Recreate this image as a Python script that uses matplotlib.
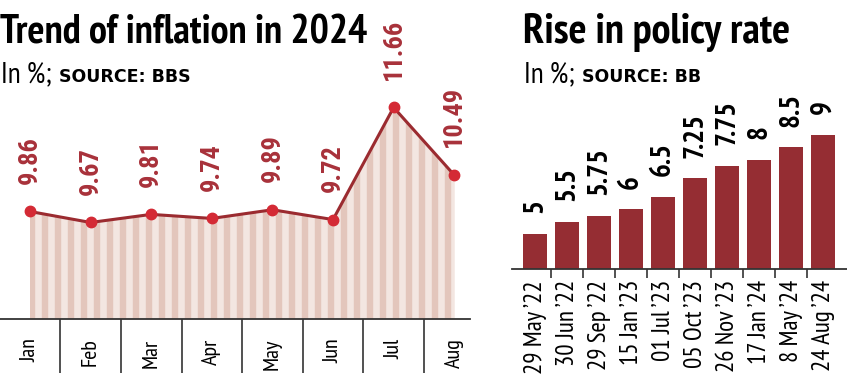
import matplotlib
matplotlib.use("Agg")
import matplotlib.pyplot as plt
import numpy as np
from matplotlib import font_manager

# --- data -------------------------------------------------------------
months = ["Jan", "Feb", "Mar", "Apr", "May", "Jun", "Jul", "Aug"]
inflation = [9.86, 9.67, 9.81, 9.74, 9.89, 9.72, 11.66, 10.49]

rate_dates = ["29 May \u201922", "30 Jun \u201922", "29 Sep \u201922", "15 Jan \u201923",
              "01 Jul \u201923", "05 Oct \u201923", "26 Nov \u201923", "17 Jan \u201924",
              "8 May \u201924", "24 Aug \u201924"]
policy_rate = [5, 5.5, 5.75, 6, 6.5, 7.25, 7.75, 8, 8.5, 9]
rate_labels = ["5", "5.5", "5.75", "6", "6.5", "7.25", "7.75", "8", "8.5", "9"]

# --- style ------------------------------------------------------------
W, H = 847, 382
installed = {f.name for f in font_manager.fontManager.ttflist}


def pick(*names):
    for n in names:
        if n in installed:
            return n
    return "DejaVu Sans"


NARROW = pick("PT Sans Narrow", "Roboto Condensed", "Fira Sans Condensed",
              "Barlow Semi Condensed", "Asap Condensed")
DIGITS = pick("Roboto Condensed", "PT Sans Narrow", "Barlow Semi Condensed")
WIDE = "DejaVu Sans"

LINE = "#9b2b30"
DOT = "#d42a35"
LABEL_RED = "#a8313a"
STRIPE_DARK = "#e3c6bc"
STRIPE_LIGHT = "#f3e6e1"
BAR = "#952d33"
AXIS = "#333333"


def fx(px):
    return px / W


def fy(py):
    return 1 - py / H


fig = plt.figure(figsize=(W / 100, H / 100), dpi=100)
fig.patch.set_facecolor("white")

# --- headings -----------------------------------------------------------
fig.text(fx(0), fy(43), "Trend of inflation in 2024", family=NARROW, weight="bold",
         fontsize=29, va="baseline", ha="left")
fig.text(fx(1), fy(82), "In %;", family=NARROW, fontsize=21, va="baseline")
fig.text(fx(59), fy(82), "SOURCE: BBS", family=WIDE, weight="bold", fontsize=12.5,
         va="baseline")

fig.text(fx(523), fy(43), "Rise in policy rate", family=NARROW, weight="bold",
         fontsize=30.5, va="baseline", ha="left")
fig.text(fx(524), fy(82), "In %;", family=NARROW, fontsize=21, va="baseline")
fig.text(fx(582), fy(82), "SOURCE: BB", family=WIDE, weight="bold", fontsize=12.5,
         va="baseline")

# --- left: inflation trend ----------------------------------------------
ax1 = fig.add_axes([0, fy(319), fx(470), (319 - 15) / H])
x = np.arange(len(months))
ax1.set_xlim(-0.495, 7.26)
ax1.set_ylim(8, 8 + 304 / 57.8)

# striped area under the line
area = ax1.fill_between(x, inflation, 8, color=STRIPE_LIGHT, lw=0, zorder=1)
period = 13 / 60.57
stripes = ax1.vlines(np.arange(x[0] + 0.03, x[-1], period), 8, 14,
                     colors=STRIPE_DARK, lw=4.6, zorder=2)
stripes.set_clip_path(area.get_paths()[0], ax1.transData)

ax1.plot(x, inflation, color=LINE, lw=2.2, zorder=3)
ax1.plot(x, inflation, "o", color=DOT, ms=7.5, zorder=4)

for xi, v in zip(x, inflation):
    ax1.annotate(f"{v:.2f}", (xi, v), xytext=(0, 20), textcoords="offset points",
                 rotation=90, ha="center", va="bottom", family=DIGITS,
                 weight="bold", fontsize=19, color=LABEL_RED, annotation_clip=False)

for s in ["top", "right", "left"]:
    ax1.spines[s].set_visible(False)
ax1.spines["bottom"].set_color(AXIS)
ax1.spines["bottom"].set_linewidth(1.3)
ax1.set_yticks([])
ax1.set_xticks(x)
ax1.set_xticklabels(months, rotation=90, family=NARROW, fontsize=16)
ax1.set_xticks(x[:-1] + 0.5, minor=True)
ax1.tick_params(axis="x", which="major", length=0, pad=14)
ax1.tick_params(axis="x", which="minor", length=39, width=1.2, color=AXIS)
ax1.patch.set_visible(False)

# --- right: policy rate -------------------------------------------------
ax2 = fig.add_axes([fx(512), fy(269), fx(335), (269 - 15) / H])
xb = np.arange(len(policy_rate))
ax2.set_xlim(-0.72, 9.75)
ax2.set_ylim(3.6, 3.6 + 254 / 24.8)
ax2.bar(xb, policy_rate, width=0.75, color=BAR, zorder=2)

for xi, v, lab in zip(xb, policy_rate, rate_labels):
    ax2.annotate(lab, (xi, v), xytext=(0, 15), textcoords="offset points",
                 rotation=90, ha="center", va="bottom", family=NARROW,
                 weight="bold", fontsize=21, color="black", annotation_clip=False)

for s in ["top", "right", "left"]:
    ax2.spines[s].set_visible(False)
ax2.spines["bottom"].set_color(AXIS)
ax2.spines["bottom"].set_linewidth(1.3)
ax2.set_yticks([])
ax2.set_xticks(xb)
ax2.set_xticklabels(rate_dates, rotation=90, family=NARROW, fontsize=18)
ax2.set_xticks(xb[:-1] + 0.5, minor=True)
ax2.tick_params(axis="x", which="major", length=0, pad=8)
ax2.tick_params(axis="x", which="minor", length=6.5, width=1.2, color=AXIS)
ax2.patch.set_visible(False)

fig.savefig("out.png", dpi=100)
plt.close(fig)
